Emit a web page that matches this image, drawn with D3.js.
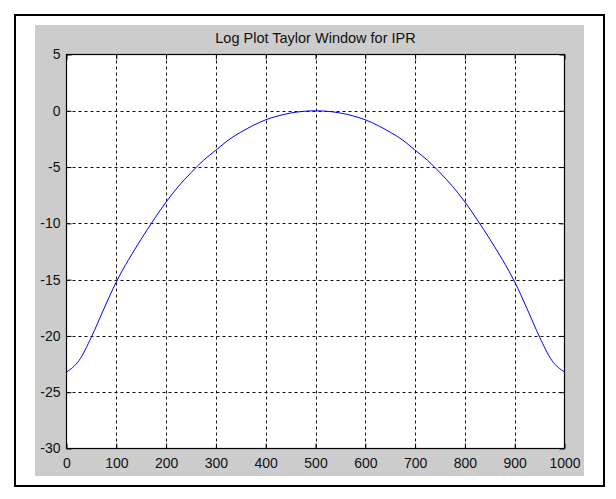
<!DOCTYPE html>
<html>
<head>
<meta charset="utf-8">
<script src="https://cdn.jsdelivr.net/npm/d3@7"></script>
<style>
  body { margin: 0; background: #fff; }
  text { font-family: Arial, "Liberation Sans", sans-serif; }
</style>
</head>
<body>
<script>
// chart data
const title = "Log Plot Taylor Window for IPR"
const xTicks = [0, 100, 200, 300, 400, 500, 600, 700, 800, 900, 1000]
const yTicks = [5, 0, -5, -10, -15, -20, -25, -30]
const sampleX = [0, 25, 50, 75, 100, 125, 150, 175, 200, 225, 250, 275, 300, 325, 350, 375, 400, 425, 450, 475,
                 500, 525, 550, 575, 600, 625, 650, 675, 700, 725, 750, 775, 800, 825, 850, 875, 900, 925, 950, 975, 1000]
const sampleDb = [-23.2, -22.2, -20.1, -17.6, -15.2, -13.2, -11.4, -9.7, -8.1, -6.7, -5.5, -4.4, -3.5, -2.6, -1.9, -1.3, -0.8, -0.45, -0.2, -0.05,
                  0, -0.05, -0.2, -0.45, -0.8, -1.3, -1.9, -2.6, -3.5, -4.4, -5.5, -6.7, -8.1, -9.7, -11.4, -13.2, -15.2, -17.6, -20.1, -22.2, -23.2]

const W = 616, H = 499
const plot = {left: 66.5, top: 54.5, right: 564.5, bottom: 448.5}

const svg = d3.select('body').append('svg')
    .attr('width', W)
    .attr('height', H)

// outer frame and grey figure background
svg.append('rect')
    .attr('x', 15).attr('y', 15)
    .attr('width', 589).attr('height', 471)
    .attr('fill', '#fff')
    .attr('stroke', '#000')
    .attr('stroke-width', 2)
svg.append('rect')
    .attr('x', 35).attr('y', 25)
    .attr('width', 549).attr('height', 451)
    .attr('fill', '#cccccc')
svg.append('rect')
    .attr('x', plot.left).attr('y', plot.top)
    .attr('width', plot.right - plot.left).attr('height', plot.bottom - plot.top)
    .attr('fill', '#fff')

const xScale = d3.scaleLinear().domain([0, 1000]).range([plot.left, plot.right])
const yScale = d3.scaleLinear().domain([-30, 5]).range([plot.bottom, plot.top])

// dashed grid
const grid = svg.append('g')
    .attr('stroke', '#111')
    .attr('stroke-width', 1)
    .attr('stroke-dasharray', '3,3')
grid.selectAll('.vg').data(xTicks.slice(1, -1))
    .enter().append('line')
    .attr('x1', d => Math.round(xScale(d)) + 0.5).attr('x2', d => Math.round(xScale(d)) + 0.5)
    .attr('y1', plot.top).attr('y2', plot.bottom)
grid.selectAll('.hg').data(yTicks.slice(1, -1))
    .enter().append('line')
    .attr('y1', d => Math.round(yScale(d)) + 0.5).attr('y2', d => Math.round(yScale(d)) + 0.5)
    .attr('x1', plot.left).attr('x2', plot.right)

// the curve
const line = d3.line()
    .x((d, i) => xScale(sampleX[i]))
    .y(d => yScale(d))
    .curve(d3.curveMonotoneX)
svg.append('path')
    .datum(sampleDb)
    .attr('fill', 'none')
    .attr('stroke', '#0000ff')
    .attr('stroke-width', 1)
    .attr('d', line)

// plain labels with hyphen minus and no thousands separator
const plain = d => String(d)

// axes with inward ticks on all four sides
function styleAxis(g) {
    g.select('.domain').remove()
    g.selectAll('line').attr('stroke', '#000')
    g.selectAll('text')
        .attr('fill', '#111')
        .style('font-size', '14px')
        .style('font-family', 'Arial, "Liberation Sans", sans-serif')
}
svg.append('g')
    .attr('transform', 'translate(0,' + plot.bottom + ')')
    .call(d3.axisBottom(xScale).tickValues(xTicks).tickFormat(plain).tickSizeInner(-5).tickSizeOuter(0).tickPadding(10))
    .call(styleAxis)
svg.append('g')
    .attr('transform', 'translate(0,' + plot.top + ')')
    .call(d3.axisTop(xScale).tickValues(xTicks).tickSizeInner(-5).tickSizeOuter(0).tickFormat(''))
    .call(styleAxis)
svg.append('g')
    .attr('transform', 'translate(' + plot.left + ',0)')
    .call(d3.axisLeft(yScale).tickValues(yTicks).tickFormat(plain).tickSizeInner(-5).tickSizeOuter(0).tickPadding(6))
    .call(styleAxis)
svg.append('g')
    .attr('transform', 'translate(' + plot.right + ',0)')
    .call(d3.axisRight(yScale).tickValues(yTicks).tickSizeInner(-5).tickSizeOuter(0).tickFormat(''))
    .call(styleAxis)

// axes box
svg.append('rect')
    .attr('x', plot.left).attr('y', plot.top)
    .attr('width', plot.right - plot.left).attr('height', plot.bottom - plot.top)
    .attr('fill', 'none')
    .attr('stroke', '#000')
    .attr('stroke-width', 1.2)

svg.append('text')
    .attr('x', (plot.left + plot.right) / 2)
    .attr('y', 43)
    .attr('text-anchor', 'middle')
    .attr('fill', '#111')
    .style('font-size', '14.5px')
    .text(title)
</script>
</body>
</html>
